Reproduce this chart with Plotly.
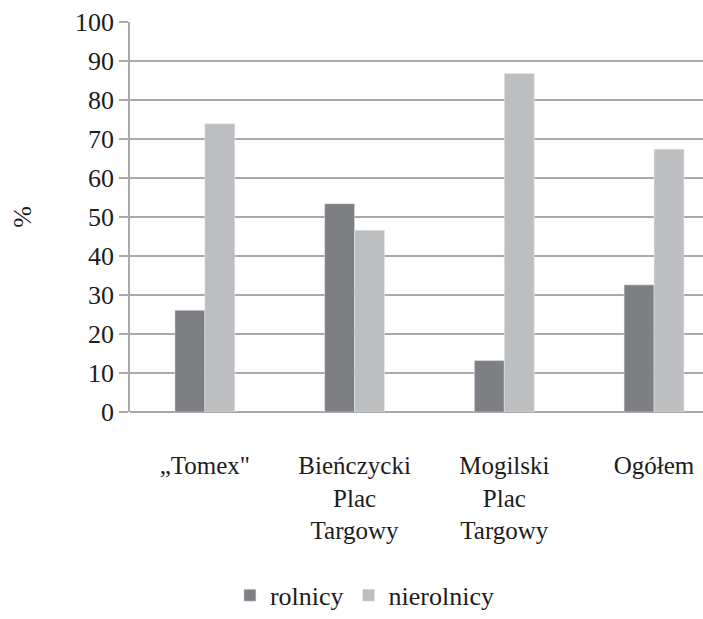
import plotly.graph_objects as go

categories = ["„Tomex\"", "Bieńczycki<br>Plac<br>Targowy", "Mogilski<br>Plac<br>Targowy", "Ogółem"]
rolnicy = [26.1, 53.4, 13.2, 32.6]
nierolnicy = [73.9, 46.6, 86.8, 67.4]
y_ticks = [0, 10, 20, 30, 40, 50, 60, 70, 80, 90, 100]

FONT = "Liberation Serif"
TXT = "#1c1c1c"
GRID = "#a9a9a9"

fig = go.Figure()
fig.add_trace(go.Bar(x=list(range(4)), y=rolnicy, name="rolnicy",
                     marker=dict(color="#7e7f83")))
fig.add_trace(go.Bar(x=list(range(4)), y=nierolnicy, name="nierolnicy",
                     marker=dict(color="#bdbec0")))

fig.update_layout(
    width=703, height=619,
    margin=dict(l=130, r=0, t=22, b=202),
    paper_bgcolor="white", plot_bgcolor="white",
    barmode="group", bargap=0.6, bargroupgap=0,
    showlegend=True,
    legend=dict(orientation="h", x=0.41, y=-0.47, xanchor="center", yanchor="middle",
                font=dict(family=FONT, size=26, color=TXT)),
    xaxis=dict(
        tickmode="array", tickvals=list(range(4)), ticktext=categories,
        range=[-0.5, 3.327], showgrid=False, zeroline=False,
        showline=False, ticks="outside", ticklen=31, tickcolor="rgba(0,0,0,0)",
        tickfont=dict(family=FONT, size=25, color=TXT),
    ),
    yaxis=dict(
        range=[0, 100], tickvals=y_ticks, showgrid=True,
        gridcolor=GRID, gridwidth=1.6, zeroline=True,
        zerolinecolor=GRID, zerolinewidth=1.6,
        showline=True, linecolor=GRID, linewidth=1.6,
        ticks="outside", ticklen=9, tickcolor=GRID, tickwidth=1.6,
        ticksuffix="\u2009\u2009",
        tickfont=dict(family=FONT, size=26, color=TXT),
    ),
)

fig.add_annotation(text="%", xref="paper", yref="paper", x=-0.189, y=0.5,
                   xanchor="center", yanchor="middle",
                   showarrow=False, textangle=-90,
                   font=dict(family=FONT, size=26, color=TXT))

fig.write_html("out.html")
